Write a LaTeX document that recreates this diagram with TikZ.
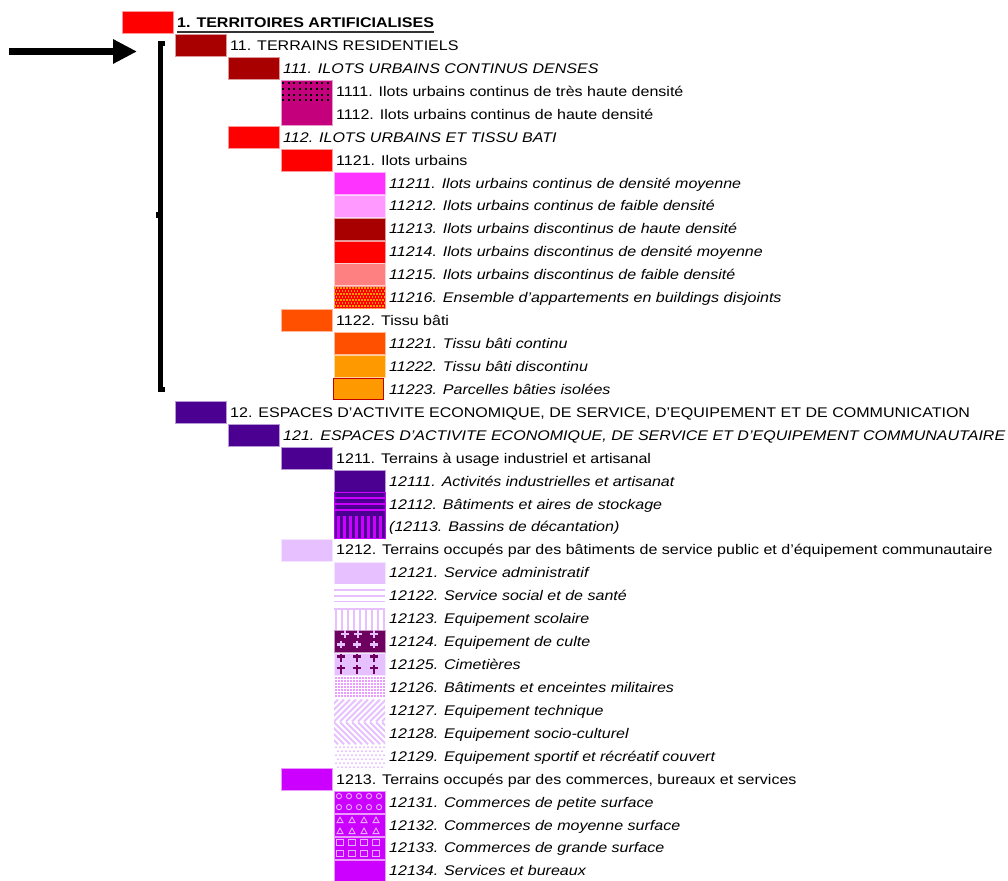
\documentclass[tikz,border=0pt]{standalone}
\usepackage{fontspec}
\setmainfont{Liberation Sans}[FakeStretch=1.145]
\usetikzlibrary{arrows.meta}
\definecolor{cRed}{HTML}{FF0000}
\definecolor{cDark}{HTML}{A80000}
\definecolor{cCrim}{HTML}{C4007C}
\definecolor{cMag}{HTML}{FF33FF}
\definecolor{cPink}{HTML}{FF99FF}
\definecolor{cSalm}{HTML}{FF8080}
\definecolor{cOrRed}{HTML}{FF5000}
\definecolor{cOr}{HTML}{FF9900}
\definecolor{cBord}{HTML}{C00000}
\definecolor{cInd}{HTML}{4C0092}
\definecolor{cVio}{HTML}{CC00FF}
\definecolor{cLav}{HTML}{E6C0FF}
\definecolor{cPlum}{HTML}{6E0060}
\definecolor{cDot}{HTML}{EC9CFF}
\definecolor{cLt}{HTML}{EAB0FF}
\newcommand\legrow[5]{%
  \node[box=#4] (b#1) at ({147.5+53*#2},{22.5+22.93*#3}) {};
  \node[lbl] (t#1) at ({177+53*#2},{27.5+22.93*#3}) {#5};}
\newcommand\legtext[4]{%
  \node[lbl] (t#1) at ({177+53*#2},{27.5+22.93*#3}) {#4};}
\newcommand\patt[2]{%
  \begin{scope}[shift={(b#1.north west)}]
  \clip (b#1.north west) rectangle (b#1.south east);
  #2
  \end{scope}}
\begin{document}
\begin{tikzpicture}[x=1pt,y=-1pt,
  box/.style={rectangle, inner sep=0pt, outer sep=0pt, minimum width=51pt,
    minimum height=22pt, fill=#1, draw=#1!40!white, line width=0.6pt},
  lbl/.style={anchor=base west, inner sep=0pt, text=black,
    font=\fontsize{14}{16}\selectfont},
  bigarrow/.style={line width=7pt, -{Triangle[length=24pt,width=23pt]}},
  bracket/.style={line width=5pt}]
\useasboundingbox (0,0) rectangle (1008,880);

% arrow and bracket
\coordinate (arrS) at (9,51.5);
\coordinate (arrE) at (137,51.5);
\draw[bigarrow] (arrS) -- (arrE);
\draw[bracket] (165,43.5) -- (160,43.5) -- (160,389) -- (165,389);
\fill (156,212) rectangle (160,218);

% level 1 - residential
\legrow{0}{0}{0}{cRed}{\bfseries 1. TERRITOIRES ARTIFICIALISES}
\draw[line width=1.4pt, black!80] ([yshift=-4.5pt]t0.base west) -- ([yshift=-4.5pt]t0.base east);
\legrow{11}{1}{1}{cDark}{11. TERRAINS RESIDENTIELS}
\legrow{111}{2}{2}{cDark}{\itshape 111. ILOTS URBAINS CONTINUS DENSES}
\node[box=cCrim, minimum height=45.9pt] (b1111) at (306.5,{22.5+22.93*3.5}) {};
\legtext{1111}{3}{3}{1111. Ilots urbains continus de très haute densité}
\legtext{1112}{3}{4}{1112. Ilots urbains continus de haute densité}
\patt{1111}{\foreach \i in {0,...,8} \foreach \j in {2,8,14,19} \fill[black] ({1.2+5.6*\i},\j) rectangle ++(2,2.5);}
\legrow{112}{2}{5}{cRed}{\itshape 112. ILOTS URBAINS ET TISSU BATI}
\legrow{1121}{3}{6}{cRed}{1121. Ilots urbains}
\legrow{11211}{4}{7}{cMag}{\itshape 11211. Ilots urbains continus de densité moyenne}
\legrow{11212}{4}{8}{cPink}{\itshape 11212. Ilots urbains continus de faible densité}
\legrow{11213}{4}{9}{cDark}{\itshape 11213. Ilots urbains discontinus de haute densité}
\legrow{11214}{4}{10}{cRed}{\itshape 11214. Ilots urbains discontinus de densité moyenne}
\legrow{11215}{4}{11}{cSalm}{\itshape 11215. Ilots urbains discontinus de faible densité}
\legrow{11216}{4}{12}{cRed}{\itshape 11216. Ensemble d’appartements en buildings disjoints}
\patt{11216}{\foreach \j in {0,...,7} {\foreach \i in {0,...,17} \fill[cOr] ({3*\i+1.5*mod(\j,2)},{3*\j+0.5}) rectangle ++(1.7,1.7);}}
\legrow{1122}{3}{13}{cOrRed}{1122. Tissu bâti}
\legrow{11221}{4}{14}{cOrRed}{\itshape 11221. Tissu bâti continu}
\legrow{11222}{4}{15}{cOr}{\itshape 11222. Tissu bâti discontinu}
\node[box=cOr, draw=cBord, line width=1.2pt, minimum width=50pt, minimum height=21pt] (b11223) at (358.5,{22.5+22.93*16}) {};
\legtext{11223}{4}{16}{\itshape 11223. Parcelles bâties isolées}

% level 12
\legrow{12}{1}{17}{cInd}{12. ESPACES D'ACTIVITE ECONOMIQUE, DE SERVICE, D'EQUIPEMENT ET DE COMMUNICATION}
\legrow{121}{2}{18}{cInd}{\itshape 121. ESPACES D'ACTIVITE ECONOMIQUE, DE SERVICE ET D'EQUIPEMENT COMMUNAUTAIRE}
\legrow{1211}{3}{19}{cInd}{1211. Terrains à usage industriel et artisanal}
\legrow{12111}{4}{20}{cInd}{\itshape 12111. Activités industrielles et artisanat}
\node[box=cInd, draw=cVio, minimum height=45.9pt] (b12112) at (359.5,{22.5+22.93*21.5}) {};
\legtext{12112}{4}{21}{\itshape 12112. Bâtiments et aires de stockage}
\legtext{12113}{4}{22}{\itshape (12113. Bassins de décantation)}
\patt{12112}{\foreach \y in {4,10,16} \fill[cVio] (0,\y) rectangle ++(51,2.5);
  \foreach \i in {0,...,7} \fill[cVio] ({3+6*\i},23) rectangle ++(3,23);}
\legrow{1212}{3}{23}{cLav}{1212. Terrains occupés par des bâtiments de service public et d’équipement communautaire}
\legrow{12121}{4}{24}{cLav}{\itshape 12121. Service administratif}
\legrow{12122}{4}{25}{white}{\itshape 12122. Service social et de santé}
\patt{12122}{\foreach \y in {4.5,10.5,16} \fill[cLav] (0,\y) rectangle ++(51,1.7);}
\legrow{12123}{4}{26}{white}{\itshape 12123. Equipement scolaire}
\patt{12123}{\fill[cLav] (0,0) rectangle (51,2); \foreach \i in {0,...,8} \fill[cLav] ({1+6*\i},0) rectangle ++(2,22);}
\legrow{12124}{4}{27}{cPlum}{\itshape 12124. Equipement de culte}
\patt{12124}{\foreach \x/\y in {11/3.5,24/3.5,40/3.5,7/14,23/14,40/14} {\fill[cLav] (\x-3.8,\y-1.2) rectangle ++(7.6,2.4); \fill[cLav] (\x-1.2,\y-3.8) rectangle ++(2.4,7.6);}}
\legrow{12125}{4}{28}{cLav}{\itshape 12125. Cimetières}
\patt{12125}{\foreach \x/\y in {7/3,23/3,40/3,7/14.5,23/14.5,40/14.5} {\fill[cPlum] (\x-3.8,\y-1.2) rectangle ++(7.6,2.4); \fill[cPlum] (\x-1.2,\y-3) rectangle ++(2.4,8.5);}}
\legrow{12126}{4}{29}{white}{\itshape 12126. Bâtiments et enceintes militaires}
\patt{12126}{\foreach \i in {0,...,16} \foreach \j in {0,...,6} \fill[cDot] ({1+3*\i},{1+3*\j}) rectangle ++(1.6,1.6);}
\legrow{12127}{4}{30}{white}{\itshape 12127. Equipement technique}
\patt{12127}{\foreach \k in {-30,-24,...,54} \draw[cLav, line width=2pt] (\k,22) -- ++(22,-22);}
\legrow{12128}{4}{31}{white}{\itshape 12128. Equipement socio-culturel}
\patt{12128}{\foreach \k in {-30,-24,...,54} \draw[cLav, line width=2pt] (\k,0) -- ++(22,22);}
\legrow{12129}{4}{32}{white}{\itshape 12129. Equipement sportif et récréatif couvert}
\patt{12129}{\foreach \i in {0,...,12} \foreach \j in {0,...,5} \fill[cLav] ({2+4*\i+2*mod(\j,2)},{2+4*\j}) circle (1.2);}
\legrow{1213}{3}{33}{cVio}{1213. Terrains occupés par des commerces, bureaux et services}
\legrow{12131}{4}{34}{cVio}{\itshape 12131. Commerces de petite surface}
\patt{12131}{\foreach \x in {5,15,25,35,45} \foreach \y in {5,16} \draw[cLt, line width=0.9pt] (\x,\y) circle (2.6);}
\legrow{12132}{4}{35}{cVio}{\itshape 12132. Commerces de moyenne surface}
\patt{12132}{\foreach \x in {6,18,30,42} \foreach \y in {6,17} \draw[cLt, line width=0.9pt] (\x-3,\y+2.5) -- (\x+3,\y+2.5) -- (\x,\y-3) -- cycle;}
\legrow{12133}{4}{36}{cVio}{\itshape 12133. Commerces de grande surface}
\patt{12133}{\foreach \x in {6,18,30,42} \foreach \y in {5,16} \draw[cLt, line width=0.9pt] (\x-3.5,\y-3) rectangle ++(7,6);}
\legrow{12134}{4}{37}{cVio}{\itshape 12134. Services et bureaux}
\end{tikzpicture}
\end{document}
